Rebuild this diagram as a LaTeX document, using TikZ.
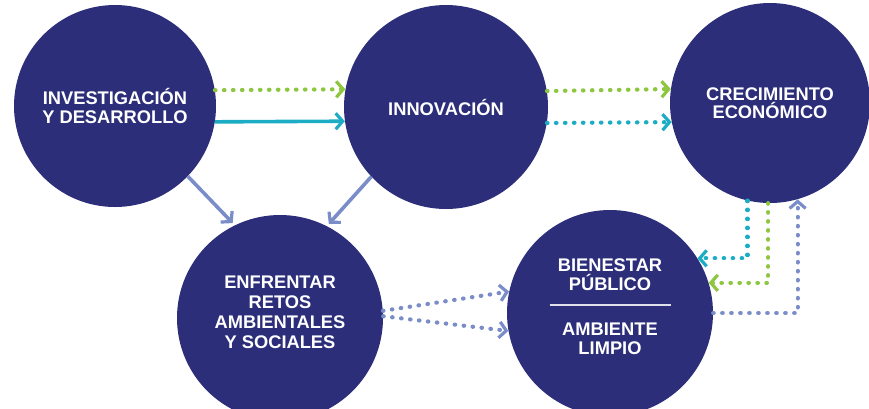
\documentclass[tikz,border=0pt]{standalone}
\usepackage{fontspec}
\setmainfont{Liberation Sans}
\usetikzlibrary{arrows.meta}
\definecolor{navy}{RGB}{44,46,122}
\definecolor{lgreen}{RGB}{141,198,63}
\definecolor{teal2}{RGB}{28,173,196}
\definecolor{bgray}{RGB}{122,141,201}
\begin{document}
\begin{tikzpicture}[x=1pt,y=1pt,
  circ/.style={circle,fill=navy,inner sep=0pt,text=white,align=center,
    font=\bfseries\fontsize{18.3}{18.5}\selectfont},
  tip/.style={-{Straight Barb[length=7pt,width=16pt,line width=3.2pt]}},
  dots/.style={line width=4.2pt,line cap=round,dash pattern=on 0.5pt off 8.5pt},
  solidline/.style={line width=3.6pt},
]
\useasboundingbox (0,0) rectangle (869,-408);
\clip (0,0) rectangle (869,-408);
\node[circ,minimum size=202pt] (c1) at (115,-106) {INVESTIGACIÓN\\Y DESARROLLO};
\node[circ,minimum size=204pt] (c2) at (446,-107) {INNOVACIÓN};
\node[circ,minimum size=200pt] (c3) at (770,-103) {CRECIMIENTO\\ECONÓMICO};
\node[circ,minimum size=206pt,text depth=12pt,
  font=\bfseries\fontsize{18.3}{20}\selectfont] (c4) at (280,-318)
  {ENFRENTAR\\RETOS\\AMBIENTALES\\Y SOCIALES};
\node[circ,minimum size=206pt,text depth=12pt,
  font=\bfseries\fontsize{18.3}{19}\selectfont] (c5) at (610,-313)
  {BIENESTAR\\PÚBLICO\\[-4pt]\textcolor{white!85!navy}{\rule{121pt}{1.5pt}}\\[11pt]AMBIENTE\\LIMPIO};

% top row
\draw[dots,tip,lgreen] (c1.9) -- (c2.170.4);
\draw[solidline,tip,teal2] (c1.-9) -- (c2.188.5);
\draw[dots,tip,lgreen] (c2.9.6) -- (c3.172.5);
\draw[dots,tip,teal2] (c2.-9) -- (c3.191.5);
% down to c4
\draw[solidline,tip,bgray,shorten >=3pt] (c1.-44.6) -- (c4.116.6);
\draw[solidline,tip,bgray,shorten >=3pt] (c2.223.8) -- (c4.63.4);
% c4 to c5
\draw[dots,tip,bgray] (c4.4) -- (c5.168.7);
\draw[dots,tip,bgray] (c4.1) -- (c5.190.3);
% c3 <-> c5
\draw[dots,tip,teal2] (c3.257) |- (c5.32);
\draw[dots,tip,lgreen] (c3.269) |- (c5.17);
\draw[dots,tip,bgray] (c5.0) -| (c3.286);
\end{tikzpicture}
\end{document}
